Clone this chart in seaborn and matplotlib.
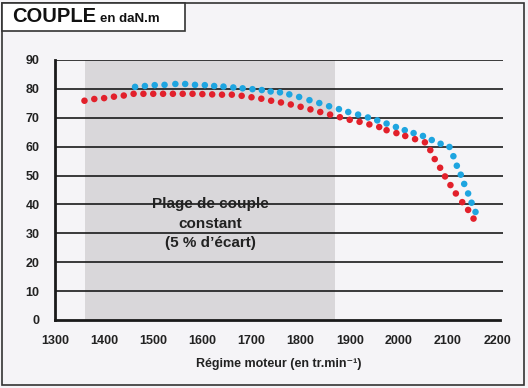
import matplotlib
matplotlib.use("Agg")
import matplotlib.pyplot as plt
import seaborn as sns
import pandas as pd
from matplotlib.patches import Rectangle

red_rpm = [1360, 1380, 1400, 1420, 1440, 1460, 1480, 1500, 1520, 1540, 1560, 1580,
           1600, 1620, 1640, 1660, 1680, 1700, 1720, 1740, 1760, 1780, 1800, 1820,
           1840, 1860, 1880, 1900, 1920, 1940, 1960, 1975, 1995, 2013, 2033, 2053,
           2064, 2073, 2084, 2094, 2105, 2116, 2129, 2141, 2152]
red_torque = [75.9, 76.5, 76.8, 77.3, 77.7, 78.3, 78.3, 78.3, 78.3, 78.3, 78.3, 78.3,
              78.2, 78.1, 78.0, 78.0, 77.6, 77.1, 76.6, 75.9, 75.3, 74.6, 73.8, 72.9,
              72.0, 71.1, 70.2, 69.3, 68.6, 67.7, 66.8, 65.7, 64.7, 63.7, 62.6, 61.5,
              58.8, 55.7, 52.7, 49.7, 46.7, 43.8, 40.8, 38.1, 35.1]

blue_rpm = [1463, 1483, 1503, 1523, 1545, 1565, 1585, 1605, 1624, 1643, 1663, 1682,
            1702, 1721, 1739, 1758, 1777, 1797, 1818, 1838, 1858, 1878, 1897, 1917,
            1937, 1956, 1975, 1994, 2012, 2030, 2049, 2067, 2085, 2103, 2111, 2118,
            2126, 2133, 2141, 2148, 2156]
blue_torque = [80.7, 81.0, 81.3, 81.4, 81.7, 81.7, 81.4, 81.3, 81.0, 80.8, 80.5, 80.2,
               79.9, 79.6, 79.1, 78.8, 78.1, 77.2, 76.1, 75.1, 74.0, 73.0, 72.0, 71.1,
               70.1, 69.1, 68.0, 66.8, 65.7, 64.7, 63.7, 62.3, 61.0, 59.9, 56.7, 53.4,
               50.3, 47.1, 43.8, 40.6, 37.4]

x_ticks = [1300, 1400, 1500, 1600, 1700, 1800, 1900, 2000, 2100, 2200]
y_ticks = [0, 10, 20, 30, 40, 50, 60, 70, 80, 90]
range_start, range_end = 1361, 1870

sns.set_style("white")
plt.rcParams['font.family'] = ['Liberation Sans', 'DejaVu Sans']
narrow = ['Liberation Sans Narrow', 'Liberation Sans', 'DejaVu Sans']

bg = "#f5f4f7"
fig = plt.figure(figsize=(5.28, 3.88), dpi=100, facecolor=bg)
ax = fig.add_axes([55/528, 1-320/388, (503-55)/528, (320-60)/388])
ax.set_facecolor(bg)

ax.axvspan(range_start, range_end, ymin=0, ymax=1, color="#d9d7da", zorder=0, lw=0)
for y in y_ticks[1:]:
    ax.axhline(y, color="#1a1a1a", lw=1.2, zorder=1)

df_red = pd.DataFrame({"rpm": red_rpm, "torque": red_torque})
df_blue = pd.DataFrame({"rpm": blue_rpm, "torque": blue_torque})
sns.scatterplot(data=df_blue, x="rpm", y="torque", color="#1ea5e0", s=22,
                edgecolor="none", ax=ax, zorder=3)
sns.scatterplot(data=df_red, x="rpm", y="torque", color="#e2202b", s=22,
                edgecolor="none", ax=ax, zorder=4)

ax.set_xlim(1300, 2212)
ax.set_ylim(0, 90)
ax.set_xticks(x_ticks)
ax.set_yticks(y_ticks)
ax.set_xticklabels([str(t) for t in x_ticks], fontsize=9, fontweight="bold",
                   color="#222222", family=narrow)
ax.set_yticklabels([str(t) for t in y_ticks], fontsize=9, fontweight="bold",
                   color="#222222", family=narrow)
ax.tick_params(axis="x", direction="out", length=6, width=2, pad=5, color="#1a1a1a")
ax.tick_params(axis="y", direction="out", length=9, width=1.5, pad=2, color="#1a1a1a")
for s in ["top", "right"]:
    ax.spines[s].set_visible(False)
ax.spines["left"].set_linewidth(2)
ax.spines["bottom"].set_linewidth(2)
ax.spines["left"].set_color("#1a1a1a")
ax.spines["bottom"].set_color("#1a1a1a")
ax.spines["bottom"].set_bounds(1300, 2205)
ax.set_xlabel("Régime moteur (en tr.min⁻¹)", fontsize=9, fontweight="bold",
              color="#222222", labelpad=8)
ax.set_ylabel("")

ax.text(1616, 33.4, "Plage de couple\nconstant\n(5 % d’écart)", ha="center", va="center",
        fontsize=11, fontweight="bold", color="#222222", linespacing=1.5, zorder=5)

# outer frame and title box
fig.patches.append(Rectangle((2/528, 3/388), 522/528, 382/388, transform=fig.transFigure,
                             fill=False, edgecolor="#333333", lw=1.2))
fig.patches.append(Rectangle((2/528, 1-31/388), 183/528, 28/388, transform=fig.transFigure,
                             facecolor="white", edgecolor="#333333", lw=1.2))
fig.text(12/528, 1-17/388, "COUPLE", fontsize=14.5, fontweight="bold", va="center",
         ha="left", color="#111111")
fig.text(100/528, 1-18.5/388, "en daN.m", fontsize=9.5, fontweight="bold", va="center",
         ha="left", color="#111111")

fig.savefig("out.png", dpi=100, facecolor=bg)
